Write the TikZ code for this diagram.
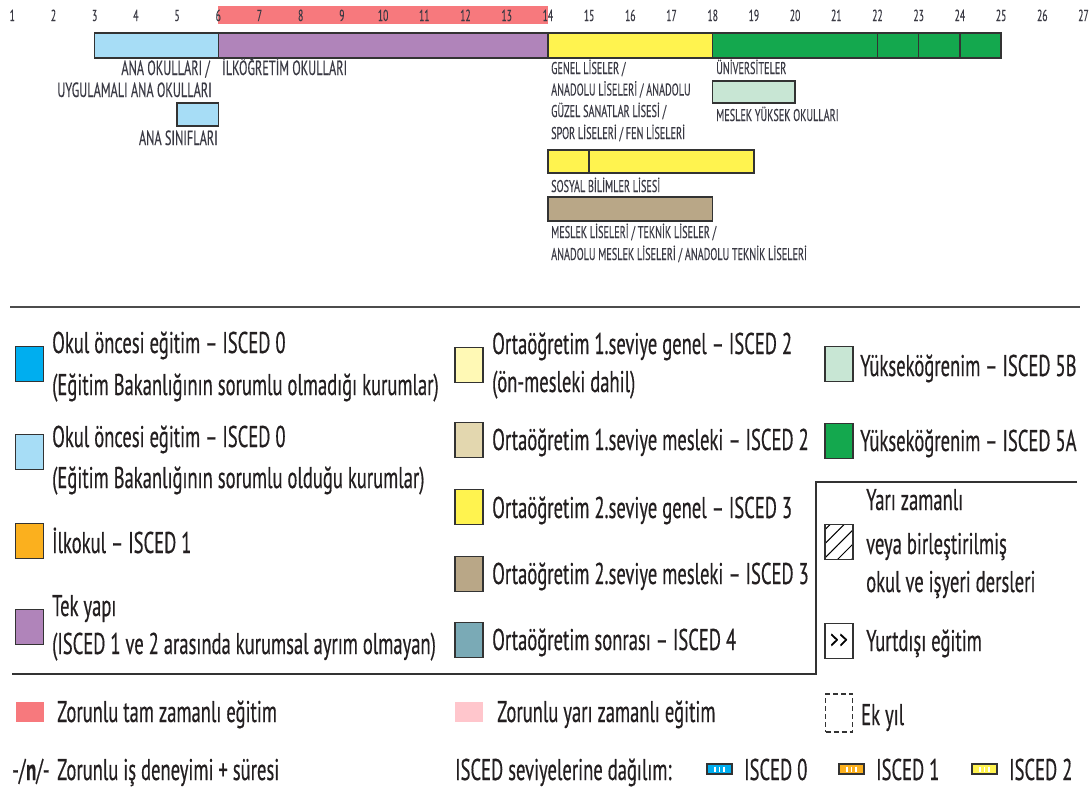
\documentclass[tikz,border=0pt]{standalone}
\usepackage{fontspec}
\setmainfont{PT Sans}[FakeStretch=0.6, FakeBold=0.3]
\newfontfamily\legfont{PT Sans}[FakeStretch=0.62, FakeBold=0.4]
\usetikzlibrary{calc}
\usetikzlibrary{patterns.meta}
\definecolor{bardark}{HTML}{333333}
\definecolor{ink}{HTML}{231F20}
\definecolor{labgray}{HTML}{3A3A44}
\definecolor{anamavi}{HTML}{A7DDF6}
\definecolor{okulcyan}{HTML}{00AEEF}
\definecolor{ilkturuncu}{HTML}{FBB01E}
\definecolor{tekmor}{HTML}{B084BA}
\definecolor{ortaacik}{HTML}{FFF9B5}
\definecolor{meslekacik}{HTML}{E3D7AF}
\definecolor{genelsari}{HTML}{FFF34F}
\definecolor{meslekkahve}{HTML}{B9A787}
\definecolor{sonrateal}{HTML}{7AAAB6}
\definecolor{yuksekacik}{HTML}{C8E6D4}
\definecolor{yuksekyesil}{HTML}{14A84E}
\definecolor{zorunlukirmizi}{HTML}{F7797D}
\definecolor{zorunlupembe}{HTML}{FFC6CC}
\tikzset{
    bar/.style={draw=bardark, line width=1.4pt},
    zorunlu/.style={fill=zorunlukirmizi},
    agenum/.style={anchor=base, inner sep=0pt, text=labgray,
        font=\fontsize{16}{16}\selectfont},
    barlabel/.style={anchor=base west, inner sep=0pt, text=labgray,
        font=\fontsize{17}{17}\selectfont},
    biglabel/.style={anchor=base east, inner sep=0pt, text=labgray,
        font=\fontsize{20.5}{20.5}\selectfont},
    swatch/.style={draw=bardark, line width=1.4pt, minimum width=28pt,
        minimum height=35pt, inner sep=0pt},
    legtext/.style={anchor=base west, inner sep=0pt, text=ink,
        font=\legfont\fontsize{30}{30}\selectfont},
    minisw/.style={draw=bardark, line width=1.2pt},
}

\begin{document}
\begin{tikzpicture}[x=1pt, y=-1pt]
	\useasboundingbox (0,0) rectangle (1092,803);
	% age scale
	\foreach \a in {1,...,27}
		\coordinate (t\a) at ({12.3+(\a-1)*41.2},0);
	\fill[zorunlu] ($(t6)+(0,6)$) rectangle ($(t14)+(0,24)$);
	\foreach \a in {1,...,27}
		\node[agenum] (n\a) at ($(t\a)+(0,21)$) {\a};
	% main bar
	\foreach \s/\e/\c in {3/6/anamavi, 6/14/tekmor, 14/18/genelsari,
		18/22/yuksekyesil, 22/23/yuksekyesil, 23/24/yuksekyesil, 24/25/yuksekyesil}
		\draw[bar, fill=\c] ($(t\s)+(0,33)$) rectangle ($(t\e)+(0,58)$);
	\draw[bar, fill=anamavi] ($(t5)+(0,103)$) rectangle ($(t6)+(0,126)$);
	\draw[bar, fill=yuksekacik] ($(t18)+(0,81)$) rectangle ($(t20)+(0,103)$);
	\draw[bar, fill=genelsari] ($(t14)+(0,150)$) rectangle ($(t15)+(0,173)$);
	\draw[bar, fill=genelsari] ($(t15)+(0,150)$) rectangle ($(t19)+(0,173)$);
	\draw[bar, fill=meslekkahve] ($(t14)+(0,197)$) rectangle ($(t18)+(0,221)$);
	% bar labels
	\node[biglabel] (anaokul) at (210,75) {ANA OKULLARI /};
	\node[biglabel] (uygulama) at (212,97) {UYGULAMALI ANA OKULLARI};
	\node[biglabel] (anasinif) at (218,145) {ANA SINIFLARI};
	\node[biglabel, anchor=base west] (ilkogretim) at (222,75) {İLKÖĞRETİM OKULLARI};
	\node[barlabel] (genel1) at (551,74) {GENEL LİSELER /};
	\node[barlabel] (genel2) at (551,95.5) {ANADOLU LİSELERİ / ANADOLU};
	\node[barlabel] (genel3) at (551,117) {GÜZEL SANATLAR LİSESİ /};
	\node[barlabel] (genel4) at (551,139) {SPOR LİSELERİ / FEN LİSELERİ};
	\node[barlabel] (universite) at (716,74) {ÜNİVERSİTELER};
	\node[barlabel] (myo) at (716,121) {MESLEK YÜKSEK OKULLARI};
	\node[barlabel] (sosyal) at (551,192) {SOSYAL BİLİMLER LİSESİ};
	\node[barlabel] (meslek1) at (551,238) {MESLEK LİSELERİ / TEKNİK LİSELER /};
	\node[barlabel] (meslek2) at (551,260) {ANADOLU MESLEK LİSELERİ / ANADOLU TEKNİK LİSELERİ};
	% legend
	\draw[draw=black!70, line width=2pt] (10,307) -- (1080,307);
	\node[swatch, fill=okulcyan] (sw01) at (29.5,364) {};
	\node[legtext] (lg01a) at (52,353) {Okul öncesi eğitim – ISCED 0};
	\node[legtext] (lg01b) at (52,395) {(Eğitim Bakanlığının sorumlu olmadığı kurumlar)};
	\node[swatch, fill=anamavi] (sw02) at (29.5,452) {};
	\node[legtext] (lg02a) at (52,447) {Okul öncesi eğitim – ISCED 0};
	\node[legtext] (lg02b) at (52,488) {(Eğitim Bakanlığının sorumlu olduğu kurumlar)};
	\node[swatch, fill=ilkturuncu] (sw1) at (29.5,541) {};
	\node[legtext] (lg1) at (52,553) {İlkokul – ISCED 1};
	\node[swatch, fill=tekmor] (swtek) at (29.5,627) {};
	\node[legtext] (lgteka) at (52,616) {Tek yapı};
	\node[legtext] (lgtekb) at (52,654) {(ISCED 1 ve 2 arasında kurumsal ayrım olmayan)};

	\node[swatch, fill=ortaacik] (sw2g) at (469,365) {};
	\node[legtext] (lg2ga) at (492,354) {Ortaöğretim 1.seviye genel – ISCED 2};
	\node[legtext] (lg2gb) at (492,392) {(ön-mesleki dahil)};
	\node[swatch, fill=meslekacik] (sw2m) at (469,440) {};
	\node[legtext] (lg2m) at (492,450) {Ortaöğretim 1.seviye mesleki – ISCED 2};
	\node[swatch, fill=genelsari] (sw3g) at (469,507) {};
	\node[legtext] (lg3g) at (492,518) {Ortaöğretim 2.seviye genel – ISCED 3};
	\node[swatch, fill=meslekkahve] (sw3m) at (469,574) {};
	\node[legtext] (lg3m) at (492,584) {Ortaöğretim 2.seviye mesleki – ISCED 3};
	\node[swatch, fill=sonrateal] (sw4) at (469,640) {};
	\node[legtext] (lg4) at (492,650) {Ortaöğretim sonrası – ISCED 4};

	\node[swatch, fill=yuksekacik] (sw5b) at (839,364) {};
	\node[legtext] (lg5b) at (860,376) {Yükseköğrenim – ISCED 5B};
	\node[swatch, fill=yuksekyesil] (sw5a) at (839,441) {};
	\node[legtext] (lg5a) at (860,451) {Yükseköğrenim – ISCED 5A};
	\draw[draw=bardark, line width=1.4pt] (1077,482) -- (816,482) -- (816,674) -- (12,674);
	\node[swatch, pattern={Lines[angle=45,distance=10pt,line width=1pt]}] (swyari) at (839,542) {};
	\node[legtext] (lgyaria) at (866,510) {Yarı zamanlı};
	\node[legtext] (lgyarib) at (866,554) {veya birleştirilmiş};
	\node[legtext] (lgyaric) at (866,592) {okul ve işyeri dersleri};
	\node[swatch, fill=white, font=\legfont\fontsize{26}{26}\selectfont] (swdisi) at (839,641) {>\kern1pt>};
	\node[legtext] (lgdisi) at (866,651) {Yurtdışı eğitim};

	\node[fill=zorunlukirmizi, minimum width=28pt, minimum height=20pt, inner sep=0pt] (swtam) at (29.5,712) {};
	\node[legtext] (lgtam) at (57,722) {Zorunlu tam zamanlı eğitim};
	\node[fill=zorunlupembe, minimum width=28pt, minimum height=20pt, inner sep=0pt] (swyarim) at (469,712) {};
	\node[legtext] (lgyarim) at (497,722) {Zorunlu yarı zamanlı eğitim};
	\node[draw=bardark, dash pattern=on 5pt off 3pt, line width=1.2pt, minimum width=27pt, minimum height=38pt, inner sep=0pt] (swek) at (839,713) {};
	\node[legtext] (lgek) at (861,725) {Ek yıl};

	\node[legtext] (lgis0) at (12,780) {-/\textbf{n}/-};
	\node[legtext] (lgis) at (57,780) {Zorunlu iş deneyimi + süresi};
	\node[legtext] (lgdag) at (455,780) {ISCED seviyelerine dağılım:};
	\foreach \x/\c/\t in {707/okulcyan/0, 839/ilkturuncu/1, 972/genelsari/2} {
		\draw[minisw, fill=\c] (\x,764) rectangle (\x+25,774);
		\foreach \k in {8,12.5,17}
			\draw[white, line width=1.3pt] (\x+\k,766.5) -- (\x+\k,771.5);
		\node[legtext] (lgisced\t) at (\x+37,780) {ISCED \t};
	}
\end{tikzpicture}
\end{document}
